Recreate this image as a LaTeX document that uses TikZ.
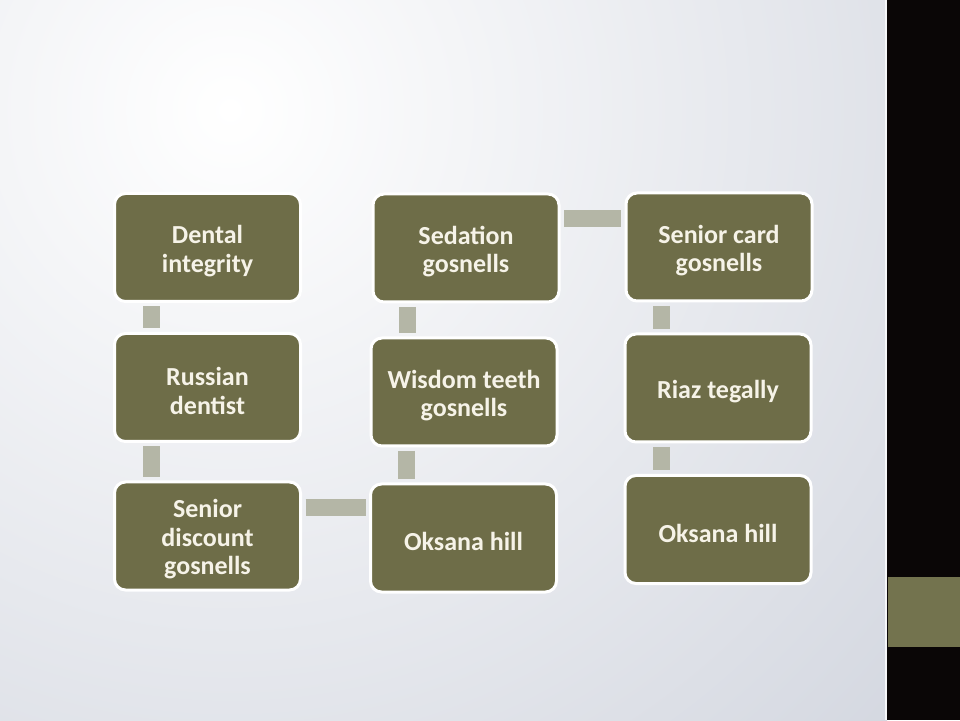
\documentclass[tikz,border=0pt]{standalone}
\usepackage{fontspec}
\setmainfont{Carlito}
\usetikzlibrary{calc}
\definecolor{boxolive}{RGB}{110,109,72}
\definecolor{linkgrey}{RGB}{180,182,166}
\definecolor{bgedge}{RGB}{196,201,213}
\definecolor{stripblack}{RGB}{10,6,6}
\definecolor{stripolive}{RGB}{115,115,78}
\definecolor{txt}{RGB}{246,243,232}
\tikzset{
  stepbox/.style={draw=white, line width=3pt, fill=boxolive, rounded corners=11pt,
    minimum width=186pt, minimum height=108pt, inner sep=0pt},
  boxtext/.style={inner sep=0pt, text width=184pt, align=flush center, text=txt,
    font=\bfseries\fontsize{26}{28.5}\selectfont},
  link/.style={draw=linkgrey, line width=17pt, shorten <=3.5pt, shorten >=3.5pt},
}
\begin{document}
\begin{tikzpicture}[x=1pt,y=1pt]
\useasboundingbox (0,0) rectangle (960,720);
% background
\begin{scope}
  \clip (0,0) rectangle (887,720);
  \shade[inner color=white, outer color=bgedge] (230,610) circle (1250);
\end{scope}
\fill[stripblack] (887,0) rectangle (960,720);
\fill[stripolive] (888,73) rectangle (960,143);
\draw[white!85!bgedge, line width=1.5pt] (886,0) -- (886,720);
% boxes
\node[stepbox] (A) at (207.5,472.5) {};
\node[stepbox] (B) at (207.5,332.5) {};
\node[stepbox] (C) at (207.5,184) {};
\node[stepbox] (D) at (466,472) {};
\node[stepbox] (E) at (464,328) {};
\node[stepbox] (F) at (463.5,182) {};
\node[stepbox] (G) at (719,473) {};
\node[stepbox] (H) at (718,332) {};
\node[stepbox] (I) at (718,190.5) {};
% texts
\node[boxtext] (At) at ([yshift=-3.5pt]A.center) {Dental\\integrity};
\node[boxtext] (Bt) at ([yshift=-3.5pt]B.center) {Russian\\dentist};
\node[boxtext] (Ct) at ([yshift=-3.5pt]C.center) {Senior\\discount\\gosnells};
\node[boxtext] (Dt) at ([yshift=-3.5pt]D.center) {Sedation\\gosnells};
\node[boxtext] (Et) at ([yshift=-3.5pt]E.center) {Wisdom teeth\\gosnells};
\node[boxtext] (Ft) at ([yshift=-3.5pt]F.center) {Oksana hill};
\node[boxtext] (Gt) at ([yshift=-3.5pt]G.center) {Senior card\\gosnells};
\node[boxtext] (Ht) at ([yshift=-3.5pt]H.center) {Riaz tegally};
\node[boxtext] (It) at ([yshift=-3.5pt]I.center) {Oksana hill};
% connectors
\coordinate (ab) at ($(A.south west)+(38,0)$);
\draw[link] (ab) -- (ab |- B.north);
\coordinate (bc) at ($(B.south west)+(38.5,0)$);
\draw[link] (bc) -- (bc |- C.north);
\coordinate (cf) at ($(C.north east)+(0,-27.5)$);
\draw[link] (cf) -- (cf -| F.west);
\coordinate (fe) at ($(E.south west)+(37,0)$);
\draw[link] (fe) -- (fe |- F.north);
\coordinate (ed) at ($(D.south west)+(36,0)$);
\draw[link] (ed) -- (ed |- E.north);
\coordinate (dg) at ($(D.north east)+(0,-26)$);
\draw[link] (dg) -- (dg -| G.west);
\coordinate (gh) at ($(G.south west)+(36.5,0)$);
\draw[link] (gh) -- (gh |- H.north);
\coordinate (hi) at ($(H.south west)+(37.5,0)$);
\draw[link] (hi) -- (hi |- I.north);
\end{tikzpicture}
\end{document}
